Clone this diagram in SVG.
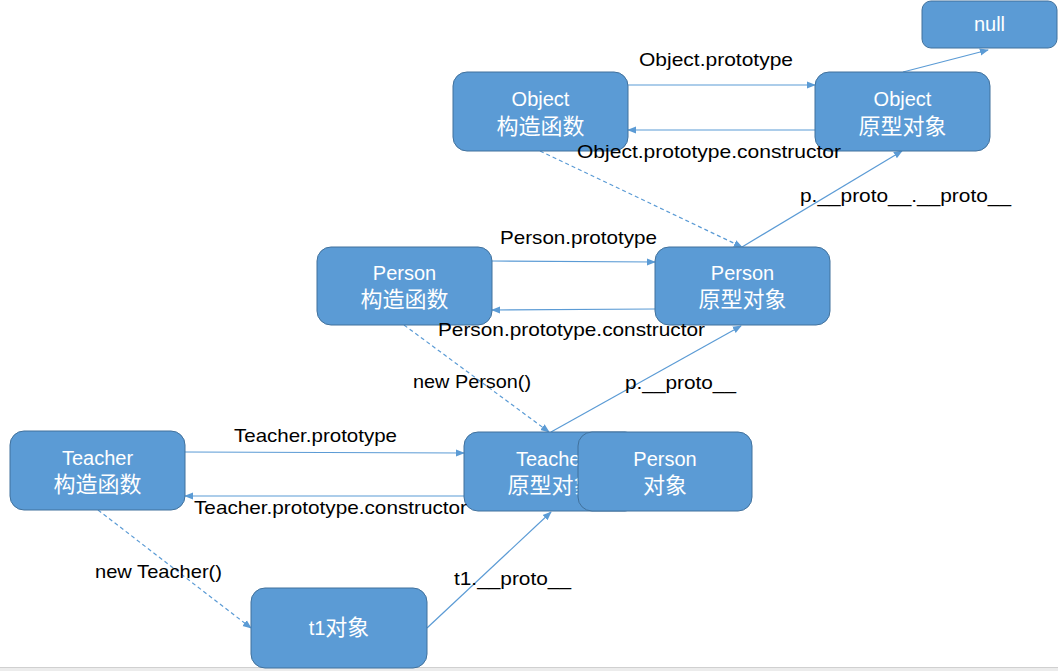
<svg xmlns="http://www.w3.org/2000/svg" width="1058" height="671" viewBox="0 0 1058 671">
<style>
.box{fill:#5B9BD5;stroke:#41719C;stroke-width:1}
.nt{font-family:"Liberation Sans","Noto Sans CJK SC",sans-serif;font-size:20px;fill:#fff;text-anchor:middle}
.cj{font-size:22px}
.lb{font-family:"Liberation Sans","Noto Sans CJK SC",sans-serif;font-size:19px;fill:#000}
.c{fill:none;stroke:#5B9BD5;stroke-width:1.2;marker-end:url(#ah)}
.d{stroke-dasharray:4 3}
</style>
<defs>
<marker id="ah" viewBox="0 0 10 10" refX="9" refY="5" markerWidth="9" markerHeight="9" orient="auto" markerUnits="userSpaceOnUse">
<path d="M0,1 L10,5 L0,9 z" fill="#5B9BD5"/>
</marker>
</defs>
<rect x="0" y="0" width="1058" height="671" fill="#fff"/>
<rect x="0" y="667" width="1058" height="4" fill="#ececec"/>
<line x1="0" y1="667.5" x2="1058" y2="667.5" stroke="#d0d0d0"/>
<g id="connectors">
<path class="c" d="M628,85 L815,85"/>
<path class="c" d="M815,130 L628,130"/>
<path class="c" d="M903,72 L988,50"/>
<path class="c d" d="M540,151 L742,247"/>
<path class="c" d="M742,247 L902,151"/>
<path class="c" d="M492,261 L655,262"/>
<path class="c" d="M655,309 L492,310"/>
<path class="c d" d="M404,325 L549,432"/>
<path class="c" d="M551,432 L741,326"/>
<path class="c" d="M185,452 L464,453"/>
<path class="c" d="M464,496 L185,496"/>
<path class="c d" d="M98,510 L251,628"/>
<path class="c" d="M427,628 L551,512"/>
</g>
<g id="null"><rect class="box" x="922" y="1" width="135" height="47" rx="9"/><text class="nt" x="989.5" y="31">null</text></g>
<g id="object-ctor"><rect class="box" x="453" y="72" width="175" height="79" rx="14"/><text class="nt" x="540.5" y="106">Object</text><text class="nt cj" x="540.5" y="134">构造函数</text></g>
<g id="object-proto"><rect class="box" x="815" y="72" width="175" height="79" rx="14"/><text class="nt" x="902.5" y="106">Object</text><text class="nt cj" x="902.5" y="134">原型对象</text></g>
<g id="person-ctor"><rect class="box" x="317" y="247" width="175" height="78" rx="14"/><text class="nt" x="404.5" y="280">Person</text><text class="nt cj" x="404.5" y="307">构造函数</text></g>
<g id="person-proto"><rect class="box" x="655" y="247" width="175" height="78" rx="14"/><text class="nt" x="742.5" y="280">Person</text><text class="nt cj" x="742.5" y="307">原型对象</text></g>
<g id="teacher-ctor"><rect class="box" x="10" y="431" width="175" height="79" rx="14"/><text class="nt" x="97.5" y="465">Teacher</text><text class="nt cj" x="97.5" y="492">构造函数</text></g>
<g id="teacher-proto"><rect class="box" x="464" y="432" width="175" height="79" rx="14"/><text class="nt" x="551.5" y="466">Teacher</text><text class="nt cj" x="551.5" y="493">原型对象</text></g>
<g id="person-obj"><rect class="box" x="578" y="432" width="174" height="79" rx="14"/><text class="nt" x="665" y="466">Person</text><text class="nt cj" x="665" y="493">对象</text></g>
<g id="t1"><rect class="box" x="251" y="588" width="176" height="80" rx="14"/><text class="nt" x="339" y="635">t1<tspan font-size="22">对象</tspan></text></g>
<g id="labels">
<text class="lb" x="639" y="66" textLength="154" lengthAdjust="spacingAndGlyphs">Object.prototype</text>
<text class="lb" x="577" y="158" textLength="264" lengthAdjust="spacingAndGlyphs">Object.prototype.constructor</text>
<text class="lb" x="800" y="202" textLength="211" lengthAdjust="spacingAndGlyphs">p.__proto__.__proto__</text>
<text class="lb" x="500" y="244" textLength="157" lengthAdjust="spacingAndGlyphs">Person.prototype</text>
<text class="lb" x="438" y="336" textLength="267" lengthAdjust="spacingAndGlyphs">Person.prototype.constructor</text>
<text class="lb" x="413" y="388" textLength="118" lengthAdjust="spacingAndGlyphs">new Person()</text>
<text class="lb" x="625" y="389" textLength="111" lengthAdjust="spacingAndGlyphs">p.__proto__</text>
<text class="lb" x="234" y="442" textLength="163" lengthAdjust="spacingAndGlyphs">Teacher.prototype</text>
<text class="lb" x="194" y="514" textLength="273" lengthAdjust="spacingAndGlyphs">Teacher.prototype.constructor</text>
<text class="lb" x="95" y="578" textLength="127" lengthAdjust="spacingAndGlyphs">new Teacher()</text>
<text class="lb" x="454" y="585" textLength="117" lengthAdjust="spacingAndGlyphs">t1.__proto__</text>
</g>
</svg>
